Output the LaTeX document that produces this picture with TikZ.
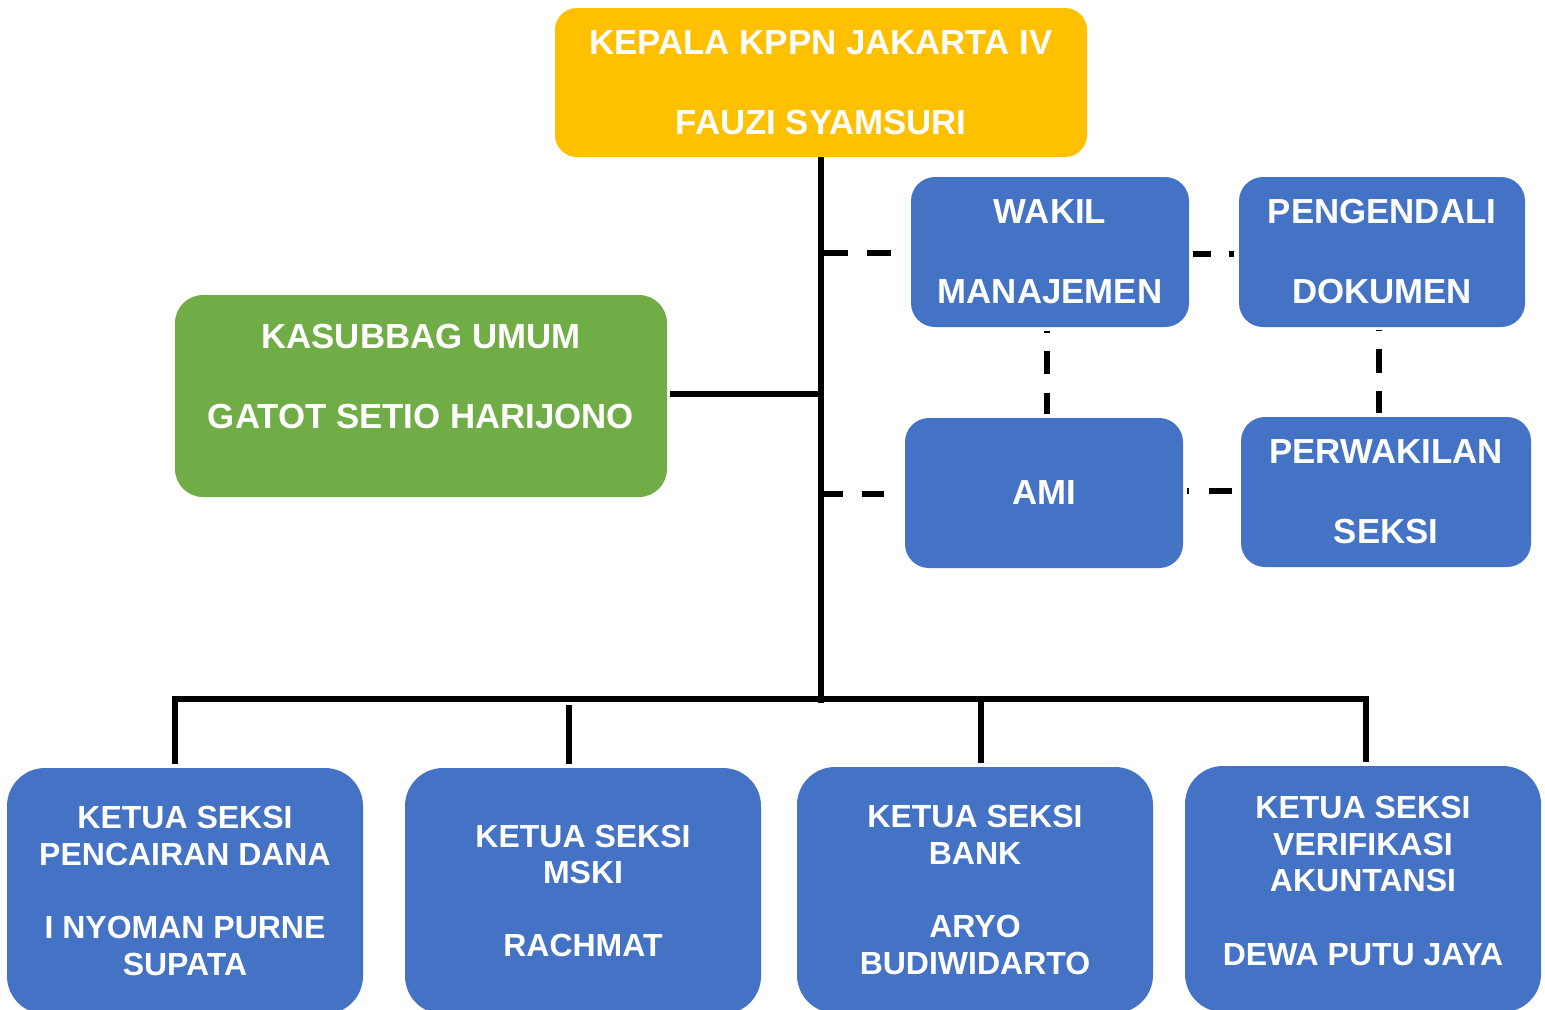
\documentclass[tikz,border=0pt]{standalone}
\usepackage{fontspec}
\setmainfont{Liberation Sans}
\definecolor{kyellow}{HTML}{FFC000}
\definecolor{kgreen}{HTML}{70AD47}
\definecolor{kblue}{HTML}{4472C4}
\tikzset{
  box/.style={draw=none, text=white, align=center, inner sep=0pt, font=\bfseries\fontsize{17.4}{20}\selectfont},
  topbox/.style={box, fill=kyellow, rounded corners=11pt, minimum width=266pt, minimum height=74.5pt},
  greenbox/.style={box, fill=kgreen, rounded corners=14pt, minimum width=246pt, minimum height=101pt},
  bluebox/.style={box, fill=kblue, rounded corners=12pt, minimum height=75pt},
  secbox/.style={box, fill=kblue, rounded corners=19pt, minimum width=178pt, minimum height=123pt, font=\bfseries\fontsize{16}{18.3}\selectfont},
  conn/.style={line width=3pt},
  dconn/.style={line width=2.8pt}
}
\begin{document}
\begin{tikzpicture}[x=0.5pt,y=-0.5pt]
\useasboundingbox (0,0) rectangle (1545,1009);
\fill[white] (0,0) rectangle (1545,1009);
% nodes
\node[topbox] (kepala) at (821,82.5) {KEPALA KPPN JAKARTA IV\\[20pt]FAUZI SYAMSURI};
\node[greenbox] (umum) at (421,396) {KASUBBAG UMUM\\[20pt]GATOT SETIO HARIJONO\\~};
\node[bluebox, minimum width=139pt] (wakil) at (1050,252) {WAKIL\\[20pt]MANAJEMEN};
\node[bluebox, minimum width=143pt] (peng) at (1382,252) {PENGENDALI\\[20pt]DOKUMEN};
\node[bluebox, minimum width=139pt] (ami) at (1044,493) {AMI};
\node[bluebox, minimum width=145pt] (perw) at (1386,492) {PERWAKILAN\\[20pt]SEKSI};
\node[secbox] (s1) at (185,891) {KETUA SEKSI\\PENCAIRAN DANA\\[18.3pt]I NYOMAN PURNE\\SUPATA};
\node[secbox] (s2) at (583,891) {KETUA SEKSI\\MSKI\\[18.3pt]RACHMAT};
\node[secbox] (s3) at (975,890) {KETUA SEKSI\\BANK\\[18.3pt]ARYO\\BUDIWIDARTO};
\node[secbox] (s4) at (1363,889) {KETUA SEKSI\\VERIFIKASI\\AKUNTANSI\\[18.3pt]DEWA PUTU JAYA\\[-10pt]~};
% coordinates
\coordinate (trunkEnd) at (821,703);
\coordinate (busL) at (175,698.5);
\coordinate (busR) at (1366,698.5);
\coordinate (d2) at (569,705);
\coordinate (d3) at (981,698.5);
\coordinate (gj) at (821,394);
\coordinate (t1) at (821,253);
\coordinate (t2) at (821,494);
\coordinate (v1) at (1047,327);
\coordinate (v2) at (1379,327);
% dashed connectors
\draw[dconn, dash pattern=on 13.5pt off 9.5pt, shorten >=10pt] (t1) -- (t1 -| wakil.west);
\draw[dconn, dash pattern=on 11pt off 9.5pt, shorten >=10pt] (t2) -- (t2 -| ami.west);
\draw[dconn, dash pattern=on 9pt off 9pt, shorten <=2pt, shorten >=2.5pt] ([yshift=-1pt]wakil.east) -- ([yshift=-1pt]wakil.east -| peng.west);
\draw[dconn, dash pattern=on 1pt off 9pt on 11.5pt off 9.5pt on 11pt off 20pt, shorten <=2pt, shorten >=2pt] (v1 |- wakil.south) -- (v1 |- ami.north);
\draw[dconn, dash pattern=on 0.5pt off 9pt on 12pt off 9pt on 11pt off 20pt, shorten <=1.5pt, shorten >=2pt] (v2 |- peng.south) -- (v2 |- perw.north);
\draw[dconn, dash pattern=on 1pt off 10pt on 11.5pt off 20pt, shorten <=2pt, shorten >=4.5pt] ([yshift=1pt]ami.east) -- ([yshift=1pt]ami.east -| perw.west);
% solid connectors
\draw[conn] (kepala.south) -- (trunkEnd);
\draw[conn, shorten <=1.5pt] (gj -| umum.east) -- (gj);
\draw[conn, shorten <=2pt, shorten >=2pt] (busL |- s1.north) |- (busR) -- (busR |- s4.north);
\draw[conn, shorten >=2pt] (d2) -- (d2 |- s2.north);
\draw[conn, shorten >=2pt] (d3) -- (d3 |- s3.north);
\end{tikzpicture}
\end{document}
